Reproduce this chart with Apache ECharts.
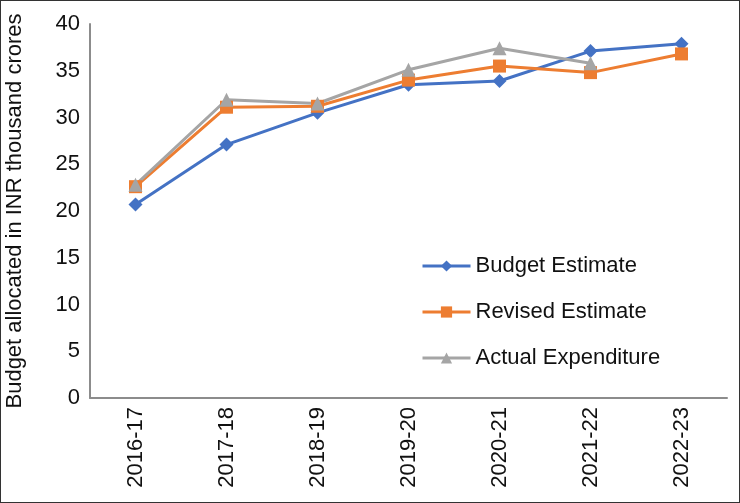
<!DOCTYPE html>
<html>
<head>
<meta charset="utf-8">
<script src="https://cdn.jsdelivr.net/npm/echarts@6/dist/echarts.min.js"></script>
<style>
html,body{margin:0;padding:0;background:#fff;}
#wrap{position:relative;width:740px;height:503px;}
#chart{position:absolute;left:0;top:0;width:740px;height:503px;}
#frame{position:absolute;left:0;top:0;width:740px;height:503px;box-sizing:border-box;border:1.5px solid #333;pointer-events:none;}
</style>
</head>
<body>
<div id="wrap"><div id="chart"></div><div id="frame"></div></div>
<script>
const categories = ['2016-17','2017-18','2018-19','2019-20','2020-21','2021-22','2022-23'];
const budgetEstimate = [20.7, 27.1, 30.5, 33.5, 33.9, 37.1, 37.9];
const revisedEstimate = [22.6, 31.1, 31.2, 34.0, 35.5, 34.8, 36.8];
const actualExpenditure = [22.8, 31.9, 31.5, 35.1, 37.4, 35.8, null];
const seriesNames = ['Budget Estimate','Revised Estimate','Actual Expenditure'];
const yAxisTitle = 'Budget allocated in INR thousand crores';

const FONT = '"Liberation Sans", Arial, sans-serif';
const chart = echarts.init(document.getElementById('chart'), null, {renderer:'canvas'});
function mk(name, data, color, symbol, size){
  return {
    name, type:'line', data, symbol, symbolSize:size, showAllSymbol:true,
    connectNulls:false,
    lineStyle:{color, width:3},
    itemStyle:{color, borderWidth:0},
    emphasis:{disabled:true},
    animation:false
  };
}
chart.setOption({
  animation:false,
  textStyle:{fontFamily:FONT},
  grid:{left:90, right:13, top:24, bottom:105, containLabel:false, outerBoundsMode:'none'},
  legend:{
    orient:'vertical', left:416, top:250,
    itemWidth:48, itemHeight:14, itemGap:24,
    lineStyle:{width:3},
    textStyle:{fontSize:22, color:'#111', fontFamily:FONT},
    data:seriesNames
  },
  xAxis:{
    type:'category', data:categories, boundaryGap:true,
    axisLine:{show:true, lineStyle:{color:'#8c8c8c', width:2}},
    axisTick:{show:false},
    axisLabel:{rotate:90, fontSize:22, color:'#111', margin:9, fontFamily:FONT, interval:0},
    splitLine:{show:false}
  },
  yAxis:{
    type:'value', min:0, max:40, interval:5,
    name:yAxisTitle, nameLocation:'middle', nameGap:64, nameRotate:90,
    nameTextStyle:{fontSize:22, color:'#111', fontFamily:FONT},
    axisLine:{show:true, lineStyle:{color:'#8c8c8c', width:2}},
    axisTick:{show:false},
    axisLabel:{fontSize:22, color:'#111', margin:10, fontFamily:FONT},
    splitLine:{show:false}
  },
  series:[
    mk(seriesNames[0], budgetEstimate, '#4472C4', 'diamond', 14),
    mk(seriesNames[1], revisedEstimate, '#ED7D31', 'rect', 13),
    mk(seriesNames[2], actualExpenditure, '#A5A5A5', 'triangle', 14)
  ]
});
</script>
</body>
</html>
